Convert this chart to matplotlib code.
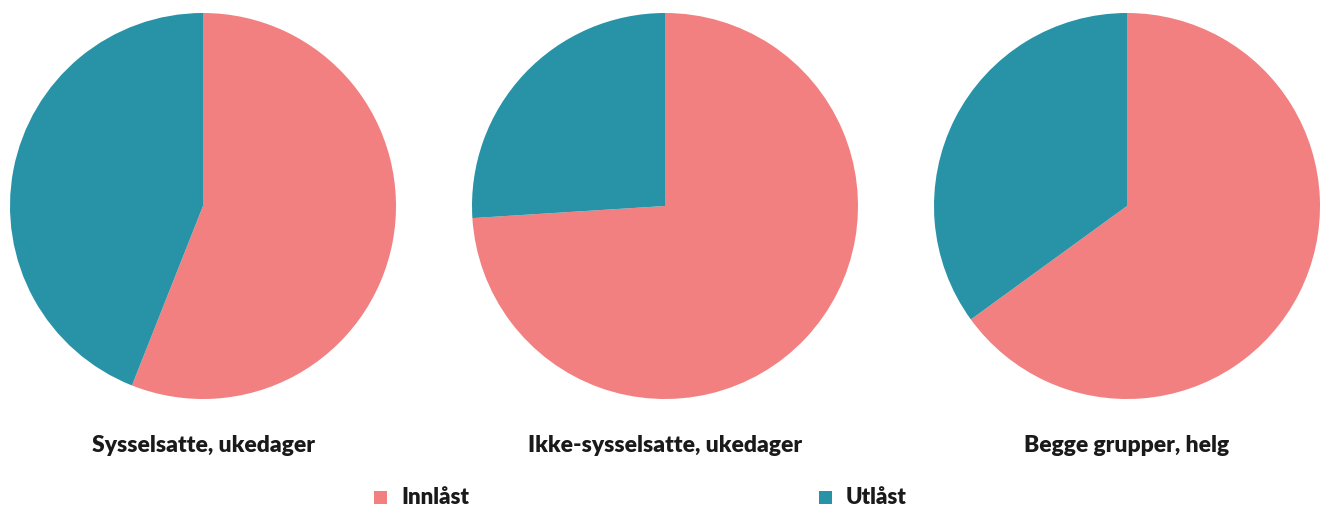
import matplotlib
matplotlib.use("Agg")
import matplotlib.pyplot as plt
from matplotlib.patches import Rectangle

titles = ["Sysselsatte, ukedager", "Ikke-sysselsatte, ukedager", "Begge grupper, helg"]
innlast = [56, 74, 65]
utlast = [44, 26, 35]
labels = ["Innlåst", "Utlåst"]
colors = ["#F28080", "#2893A7"]

W, H = 1327, 507
fig = plt.figure(figsize=(W / 100, H / 100), dpi=100)
plt.rcParams['font.family'] = ['Lato', 'DejaVu Sans']

centers_x = [203, 665, 1127]
cy = 206
r = 193
for i, cx in enumerate(centers_x):
    ax = fig.add_axes([(cx - r) / W, (H - cy - r) / H, 2 * r / W, 2 * r / H])
    ax.pie([innlast[i], utlast[i]], colors=colors, startangle=90, counterclock=False,
           radius=1, wedgeprops=dict(linewidth=0))
    ax.set_xlim(-1, 1)
    ax.set_ylim(-1, 1)
    ax.set_aspect('equal')
    ax.axis('off')
    fig.text(cx / W, 1 - 446 / H, titles[i], ha='center', va='center',
             fontsize=16.5, fontweight='heavy', color='#1a1a1a')

# legend
leg_items = [(374, labels[0], colors[0]), (819, labels[1], colors[1])]
for x, lab, col in leg_items:
    fig.patches.append(Rectangle((x / W, 1 - 504 / H), 13 / W, 13 / H,
                                 transform=fig.transFigure, facecolor=col, edgecolor='none'))
    fig.text((x + 27) / W, 1 - 497 / H, lab, ha='left', va='center',
             fontsize=16, fontweight='heavy', color='#1a1a1a')

fig.savefig("out.png", dpi=100, facecolor='white')
